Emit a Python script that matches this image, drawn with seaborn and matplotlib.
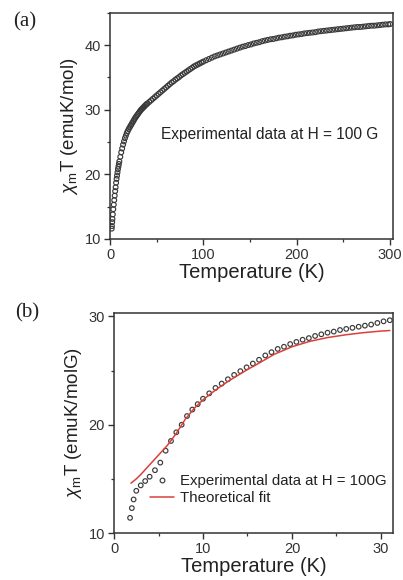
import matplotlib
matplotlib.use("Agg")
import matplotlib.pyplot as plt
from matplotlib.lines import Line2D
from matplotlib.ticker import MultipleLocator
import seaborn as sns
import pandas as pd

# ---- panel (a): chi_m*T versus T, 2-300 K ----
temp_a = [1.8, 2.0, 2.3, 2.6, 3.0, 3.5, 4.0, 4.5, 5.0, 5.5, 6.0, 6.5, 7.0, 7.5,
          8.0, 8.5, 9.0, 9.5, 10, 11, 12, 13, 14, 15, 16, 17, 18, 19, 20, 21, 22,
          23, 24, 25, 26, 27, 28, 29, 30, 31, 32, 33, 34, 35, 36, 37, 38, 39, 40,
          42, 44, 46, 48, 50, 52, 54, 56, 58, 60, 62, 64, 66, 68, 70, 72, 74, 76,
          78, 80, 82, 84, 86, 88, 90, 92, 94, 96, 98, 100, 103, 106, 109, 112,
          115, 118, 121, 124, 127, 130, 133, 136, 139, 142, 145, 148, 151, 154,
          157, 160, 163, 166, 169, 172, 175, 178, 181, 184, 187, 190, 193, 196,
          199, 202, 205, 208, 211, 214, 217, 220, 223, 226, 229, 232, 235, 238,
          241, 244, 247, 250, 253, 256, 259, 262, 265, 268, 271, 274, 277, 280,
          283, 286, 289, 292, 295, 298, 300]
chit_a = [11.6, 12.0, 12.6, 13.1, 13.8, 14.6, 15.3, 16.0, 16.7, 17.4, 18.0, 18.7,
          19.3, 19.8, 20.3, 20.8, 21.2, 21.6, 22.0, 22.7, 23.4, 24.0, 24.6, 25.1,
          25.6, 26.0, 26.4, 26.7, 27.0, 27.25, 27.5, 27.75, 28.0, 28.25, 28.5,
          28.75, 28.95, 29.15, 29.35, 29.55, 29.75, 29.95, 30.1, 30.25, 30.4,
          30.55, 30.7, 30.85, 30.95, 31.2, 31.45, 31.7, 31.95, 32.2, 32.45, 32.7,
          32.95, 33.2, 33.45, 33.7, 33.95, 34.2, 34.4, 34.65, 34.85, 35.05, 35.3,
          35.5, 35.7, 35.9, 36.1, 36.3, 36.5, 36.7, 36.85, 37.0, 37.15, 37.3,
          37.45, 37.65, 37.85, 38.05, 38.25, 38.4, 38.55, 38.7, 38.85, 39.0,
          39.15, 39.3, 39.45, 39.6, 39.75, 39.85, 40.0, 40.1, 40.25, 40.35, 40.45,
          40.6, 40.7, 40.8, 40.9, 40.95, 41.05, 41.15, 41.2, 41.3, 41.35, 41.45,
          41.5, 41.6, 41.65, 41.7, 41.8, 41.85, 41.9, 41.95, 42.0, 42.1, 42.15,
          42.2, 42.25, 42.3, 42.35, 42.4, 42.45, 42.5, 42.55, 42.6, 42.65, 42.7,
          42.75, 42.8, 42.8, 42.85, 42.9, 42.95, 43.0, 43.0, 43.05, 43.1, 43.15,
          43.2, 43.2, 43.25]

# ---- panel (b): low-temperature data with fitted curve ----
temp_b = [1.8, 2.0, 2.2, 2.5, 3.0, 3.5, 4.0, 4.6, 5.2, 5.8, 6.4, 7.0, 7.6, 8.2,
          8.8, 9.4, 10.0, 10.7, 11.4, 12.1, 12.8, 13.5, 14.2, 14.9, 15.6, 16.3,
          17.0, 17.7, 18.4, 19.1, 19.8, 20.5, 21.2, 21.9, 22.6, 23.3, 24.0, 24.7,
          25.4, 26.1, 26.8, 27.5, 28.2, 28.9, 29.6, 30.3, 31.0]
chit_b = [11.4, 12.3, 13.1, 13.9, 14.4, 14.8, 15.2, 15.8, 16.5, 17.6, 18.5, 19.3,
          20.0, 20.8, 21.4, 21.9, 22.4, 22.9, 23.4, 23.8, 24.2, 24.6, 24.95,
          25.3, 25.65, 26.0, 26.4, 26.7, 27.0, 27.2, 27.45, 27.65, 27.85, 28.0,
          28.2, 28.35, 28.5, 28.6, 28.75, 28.85, 28.95, 29.05, 29.15, 29.25,
          29.4, 29.55, 29.65]

temp_fit = [1.9, 2.5, 3.0, 4.0, 5.0, 6.0, 7.0, 8.0, 9.0, 10.0, 11.0, 12.0, 13.0,
            14.0, 15.0, 16.0, 18.0, 20.0, 22.0, 24.0, 26.0, 28.0, 30.0, 31.0]
chit_fit = [14.6, 15.0, 15.4, 16.3, 17.2, 18.1, 19.2, 20.5, 21.5, 22.3, 22.95,
            23.55, 24.1, 24.6, 25.1, 25.55, 26.5, 27.2, 27.7, 28.05, 28.3, 28.5,
            28.65, 28.7]

label_exp_b = "Experimental data at H = 100G"
label_fit_b = "Theoretical fit"
note_a = "Experimental data at H = 100 G"

sns.set_style("ticks")
plt.rcParams["font.family"] = ["Liberation Sans", "DejaVu Sans"]
plt.rcParams["mathtext.fontset"] = "custom"
plt.rcParams["mathtext.rm"] = "Liberation Sans"
plt.rcParams["mathtext.it"] = "Liberation Sans:italic"

edge = "#3a3a3a"
fit_red = "#d9403a"

fig = plt.figure(figsize=(4.03, 5.80), dpi=100)
ax_a = fig.add_axes([0.273, 0.588, 0.702, 0.390])
ax_b = fig.add_axes([0.283, 0.081, 0.692, 0.379])

df_a = pd.DataFrame({"T": temp_a, "chiT": chit_a})
df_b = pd.DataFrame({"T": temp_b, "chiT": chit_b})
df_fit = pd.DataFrame({"T": temp_fit, "chiT": chit_fit})

sns.scatterplot(data=df_a, x="T", y="chiT", ax=ax_a, marker="o", s=12,
                facecolors="none", edgecolor=edge, linewidth=0.85, legend=False)
sns.scatterplot(data=df_b, x="T", y="chiT", ax=ax_b, marker="o", s=11,
                facecolors="none", edgecolor=edge, linewidth=0.85, legend=False)
sns.lineplot(data=df_fit, x="T", y="chiT", ax=ax_b, color=fit_red, linewidth=1.1,
             legend=False)

for ax in (ax_a, ax_b):
    for sp in ax.spines.values():
        sp.set_color("#333333")
        sp.set_linewidth(1.1)
    ax.tick_params(axis="both", which="major", direction="out", length=4.5,
                   width=1.0, color="#333333", labelsize=10.5, pad=2,
                   labelcolor="#333333")
    ax.tick_params(axis="both", which="minor", direction="out", length=2.5,
                   width=0.9, color="#333333")
    ax.set_xlabel("Temperature (K)", fontsize=14.5, labelpad=1, color="#222222")

ax_a.set_xlim(0, 303)
ax_a.set_ylim(10, 45)
ax_a.xaxis.set_major_locator(MultipleLocator(100))
ax_a.xaxis.set_minor_locator(MultipleLocator(50))
ax_a.yaxis.set_major_locator(MultipleLocator(10))
ax_a.yaxis.set_minor_locator(MultipleLocator(5))
ax_a.set_ylabel(r"$\chi_{\mathrm{m}}$T (emuK/mol)", fontsize=13.5, labelpad=3,
                color="#222222")
ax_a.text(0.18, 0.46, note_a, transform=ax_a.transAxes, fontsize=11.2,
          color="#222222", va="center", ha="left")

ax_b.set_xlim(0, 31.35)
ax_b.set_ylim(10, 30.3)
ax_b.xaxis.set_major_locator(MultipleLocator(10))
ax_b.xaxis.set_minor_locator(MultipleLocator(5))
ax_b.yaxis.set_major_locator(MultipleLocator(10))
ax_b.yaxis.set_minor_locator(MultipleLocator(5))
ax_b.set_ylabel(r"$\chi_{\mathrm{m}}$T (emuK/molG)", fontsize=13.5, labelpad=3,
                color="#222222")

handles = [
    Line2D([], [], linestyle="none", marker="o", markersize=3.4,
           markerfacecolor="none", markeredgecolor=edge, markeredgewidth=0.85),
    Line2D([], [], color=fit_red, linewidth=1.1),
]
ax_b.legend(handles, [label_exp_b, label_fit_b], loc="lower left",
            bbox_to_anchor=(0.09, 0.08), frameon=False, fontsize=10.8,
            handlelength=1.6, handletextpad=0.4, labelspacing=0.2,
            borderpad=0.2, labelcolor="#222222")

fig.text(13 / 403, 1 - 22 / 580, "(a)", family="Liberation Serif", fontsize=15,
         va="center", ha="left", color="#222222")
fig.text(15 / 403, 1 - 313 / 580, "(b)", family="Liberation Serif", fontsize=15,
         va="center", ha="left", color="#222222")

fig.savefig("out.png", dpi=100, facecolor="white")
